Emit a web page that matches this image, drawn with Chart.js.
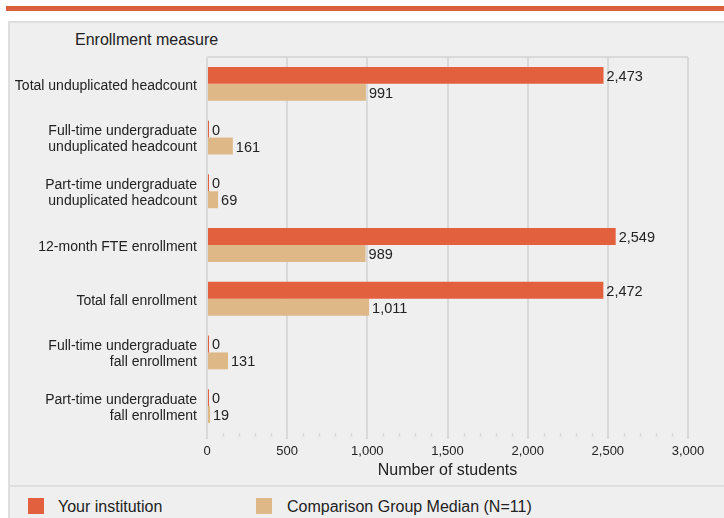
<!DOCTYPE html>
<html>
<head>
<meta charset="utf-8">
<script src="https://cdn.jsdelivr.net/npm/chart.js@4"></script>
<style>
  body { margin: 0; background: #fff; font-family: "Liberation Sans", Arial, sans-serif; }
  #wrap { position: relative; width: 724px; height: 518px; overflow: hidden; }
  #strip { position: absolute; left: 6px; top: 6px; width: 730px; height: 5px; background: #d9603b; }
  #panel { position: absolute; left: 8px; top: 21px; width: 740px; height: 520px; background: #efefef; border: 2px solid #dedede; box-sizing: border-box; }
  #divider { position: absolute; left: 8px; top: 485px; width: 730px; height: 2px; background: #dedede; }
  #ytitle { position: absolute; left: 75px; top: 31px; font-size: 16px; color: #222; }
  .leg { position: absolute; top: 498px; font-size: 16px; color: #222; line-height: 17px; }
  .leg span { position: absolute; left: 0; top: 0; width: 16px; height: 16px; }
  canvas { position: absolute; left: 0; top: 0; }
</style>
</head>
<body>
<div id="wrap">
  <div id="strip"></div>
  <div id="panel"></div>
  <div id="divider"></div>
  <div id="ytitle">Enrollment measure</div>
  <div class="leg" style="left:28px"><span style="background:#e3603f"></span><div style="margin-left:30px;white-space:nowrap">Your institution</div></div>
  <div class="leg" style="left:256px"><span style="background:#dfb887"></span><div style="margin-left:31px;white-space:nowrap">Comparison Group Median (N=11)</div></div>
  <canvas id="chart" width="724" height="518" style="width:724px;height:518px"></canvas>
</div>
<script>
// DATA
const measures = [
    'Total unduplicated headcount',
    ['Full-time undergraduate', 'unduplicated headcount'],
    ['Part-time undergraduate', 'unduplicated headcount'],
    '12-month FTE enrollment',
    'Total fall enrollment',
    ['Full-time undergraduate', 'fall enrollment'],
    ['Part-time undergraduate', 'fall enrollment']
];
const yourInstitution = [2473, 0, 0, 2549, 2472, 0, 0];
const comparisonMedian = [991, 161, 69, 989, 1011, 131, 19];
const xTicks = [0, 500, 1000, 1500, 2000, 2500, 3000];

const FONT = '"Liberation Sans", Arial, sans-serif';

// value labels, minor ticks and top frame line
const extrasPlugin = {
    id: 'extras',
    afterDatasetsDraw(chart) {
        const ctx = chart.ctx;
        const x = chart.scales.x;
        const area = chart.chartArea;
        ctx.save();
        // top frame
        ctx.strokeStyle = '#d9d9d9';
        ctx.lineWidth = 2;
        ctx.beginPath();
        ctx.moveTo(area.left, area.top);
        ctx.lineTo(area.right, area.top);
        ctx.stroke();
        // minor ticks every 100
        ctx.lineWidth = 1.5;
        ctx.beginPath();
        for (let v = 100; v < 3000; v += 100) {
            if (v % 500 === 0) continue;
            const px = Math.round(x.getPixelForValue(v)) + 0.5;
            ctx.moveTo(px, area.bottom);
            ctx.lineTo(px, area.bottom + 4);
        }
        ctx.stroke();
        // value labels
        ctx.fillStyle = '#222';
        ctx.font = '14.5px ' + FONT;
        ctx.textBaseline = 'middle';
        chart.data.datasets.forEach((ds, i) => {
            chart.getDatasetMeta(i).data.forEach((bar, j) => {
                const end = Math.max(bar.x, bar.base);
                ctx.fillText(ds.data[j].toLocaleString('en-US'), end + 3, bar.y + 1.5);
            });
        });
        ctx.restore();
    }
};

new Chart(document.getElementById('chart').getContext('2d'), {
    type: 'bar',
    data: {
        labels: measures,
        datasets: [{
            label: 'Your institution', data: yourInstitution, backgroundColor: '#e3603f', minBarLength: 2
        }, {
            label: 'Comparison Group Median (N=11)', data: comparisonMedian, backgroundColor: '#dfb887'
        }]
    },
    options: {
        indexAxis: 'y',
        responsive: false,
        animation: false,
        categoryPercentage: 0.63,
        barPercentage: 1,
        layout: { padding: { top: 57, right: 36, bottom: 38, left: 0 } },
        plugins: { legend: { display: false }, tooltip: { enabled: false } },
        scales: {
            x: {
                min: 0, max: 3000,
                afterBuildTicks: s => { s.ticks = xTicks.map(v => ({ value: v })); },
                afterFit: s => { s.height = 47; },
                grid: { color: '#d9d9d9', lineWidth: 2, tickLength: 6, drawTicks: true },
                border: { display: false },
                ticks: {
                    color: '#222', padding: 5,
                    font: { family: FONT, size: 13 },
                    callback: v => v.toLocaleString('en-US')
                },
                title: {
                    display: true, text: 'Number of students', color: '#222',
                    font: { family: FONT, size: 16 }, padding: { top: 4, bottom: 0 }
                }
            },
            y: {
                afterFit: s => { s.width = 207; },
                grid: { display: false },
                border: { display: false },
                ticks: {
                    color: '#222', padding: 2, labelOffset: 2,
                    font: { family: FONT, size: 14, lineHeight: 1.15 }
                }
            }
        }
    },
    plugins: [extrasPlugin]
});
</script>
</body>
</html>
